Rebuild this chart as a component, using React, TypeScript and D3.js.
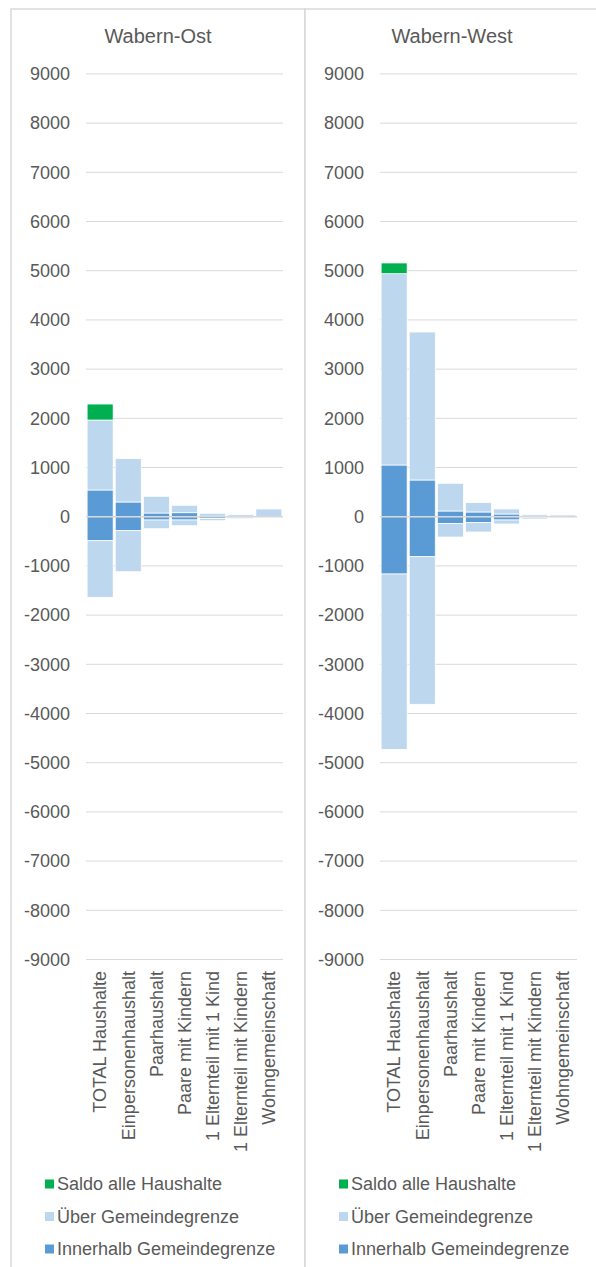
import React from "react";
import * as d3 from "d3";

const categories = [
  "TOTAL Haushalte",
  "Einpersonenhaushalt",
  "Paarhaushalt",
  "Paare mit Kindern",
  "1 Elternteil mit 1 Kind",
  "1 Elternteil mit Kindern",
  "Wohngemeinschaft",
];

const panelTitles = ["Wabern-Ost", "Wabern-West"];

// Wabern-Ost
const ostInnerPos = [543, 299, 75, 81, 10, 8, 5];
const ostInnerNeg = [-488, -285, -67, -67, -35, -10, -3];
const ostUeberPos = [1422, 880, 339, 150, 59, 32, 152];
const ostUeberNeg = [-1150, -833, -177, -116, -46, -30, -10];
const ostSaldo = [325, 0, 0, 0, 0, 0, 0];

// Wabern-West
const westInnerPos = [1051, 746, 116, 96, 55, 10, 5];
const westInnerNeg = [-1165, -813, -142, -122, -67, -15, -3];
const westUeberPos = [3888, 3008, 563, 189, 102, 30, 29];
const westUeberNeg = [-3563, -3000, -271, -189, -81, -32, -10];
const westSaldo = [218, 0, 0, 0, 0, 0, 0];

const yTicks = [9000, 8000, 7000, 6000, 5000, 4000, 3000, 2000, 1000, 0, -1000, -2000, -3000, -4000, -5000, -6000, -7000, -8000, -9000];

const legendItems = [
  { label: "Saldo alle Haushalte", color: "#00b050" },
  { label: "Über Gemeindegrenze", color: "#bdd7ee" },
  { label: "Innerhalb Gemeindegrenze", color: "#5b9bd5" },
];

const keyColors: Record<string, string> = {
  innerPos: "#5b9bd5",
  innerNeg: "#5b9bd5",
  ueberPos: "#bdd7ee",
  ueberNeg: "#bdd7ee",
  saldo: "#00b050",
};

const FONT = "'Liberation Sans', Arial, sans-serif";
const TEXT = "#595959";

function Panel({ offsetX, title, innerPos, innerNeg, ueberPos, ueberNeg, saldo }: any) {
  const x = d3.scaleBand<string>().domain(categories).range([offsetX + 75, offsetX + 272]).paddingInner(0.075).paddingOuter(0.04);
  const y = d3.scaleLinear().domain([-9000, 9000]).range([959.5, 73.9]);
  const rows = categories.map((c, i) => ({
    cat: c,
    innerPos: innerPos[i],
    innerNeg: innerNeg[i],
    ueberPos: ueberPos[i],
    ueberNeg: ueberNeg[i],
    saldo: saldo[i],
  }));
  const keys = ["innerPos", "innerNeg", "ueberPos", "ueberNeg", "saldo"];
  const series = d3.stack<any>().keys(keys).offset(d3.stackOffsetDiverging)(rows);
  const gridX1 = offsetX + 75;
  const gridX2 = offsetX + 272;
  return (
    <g>
      <text x={offsetX + 147} y={43} textAnchor="middle" fontSize={20} fill={TEXT} fontFamily={FONT}>
        {title}
      </text>
      {yTicks.map((t) => (
        <g key={t}>
          {t !== 0 && <line x1={gridX1} x2={gridX2} y1={y(t)} y2={y(t)} stroke="#d9d9d9" strokeWidth={1} />}
          <text x={offsetX + 59} y={y(t)} dy="0.35em" textAnchor="end" fontSize={18} fill={TEXT} fontFamily={FONT}>
            {t}
          </text>
        </g>
      ))}
      {series.map((s: any) => (
        <g key={s.key} fill={keyColors[s.key]}>
          {s.map((d: any, i: number) => {
            const y0 = y(d[0]);
            const y1 = y(d[1]);
            const h = Math.abs(y0 - y1);
            if (h < 0.01) return null;
            return (
              <rect
                key={i}
                x={x(categories[i])}
                width={x.bandwidth()}
                y={Math.min(y0, y1)}
                height={h}
                stroke="#ffffff"
                strokeWidth={0.75}
              />
            );
          })}
        </g>
      ))}
      <line x1={gridX1} x2={gridX2} y1={y(0)} y2={y(0)} stroke="#d9d9d9" strokeWidth={1.5} />
      {categories.map((c) => {
        const cx = (x(c) as number) + x.bandwidth() / 2;
        return (
          <text
            key={c}
            transform={`translate(${cx},971) rotate(-90)`}
            dy="0.35em"
            textAnchor="end"
            fontSize={18}
            fill={TEXT}
            fontFamily={FONT}
          >
            {c}
          </text>
        );
      })}
      {legendItems.map((l, i) => (
        <g key={l.label}>
          <rect x={offsetX + 34} y={1184 + i * 32.5 - 4.5} width={9} height={9} fill={l.color} />
          <text x={offsetX + 46} y={1184 + i * 32.5} dy="0.35em" fontSize={18} fill={TEXT} fontFamily={FONT}>
            {l.label}
          </text>
        </g>
      ))}
    </g>
  );
}

export default function App() {
  return (
    <div style={{ position: "absolute", left: 0, top: 0 }}>
      <svg width={596} height={1267} style={{ display: "block", background: "#ffffff" }}>
        <rect x={11} y={9} width={294} height={1270} fill="#ffffff" stroke="#d9d9d9" strokeWidth={1.5} />
        <rect x={305} y={9} width={294} height={1270} fill="#ffffff" stroke="#d9d9d9" strokeWidth={1.5} />
        <Panel offsetX={11} title={panelTitles[0]} innerPos={ostInnerPos} innerNeg={ostInnerNeg} ueberPos={ostUeberPos} ueberNeg={ostUeberNeg} saldo={ostSaldo} />
        <Panel offsetX={305} title={panelTitles[1]} innerPos={westInnerPos} innerNeg={westInnerNeg} ueberPos={westUeberPos} ueberNeg={westUeberNeg} saldo={westSaldo} />
      </svg>
    </div>
  );
}
